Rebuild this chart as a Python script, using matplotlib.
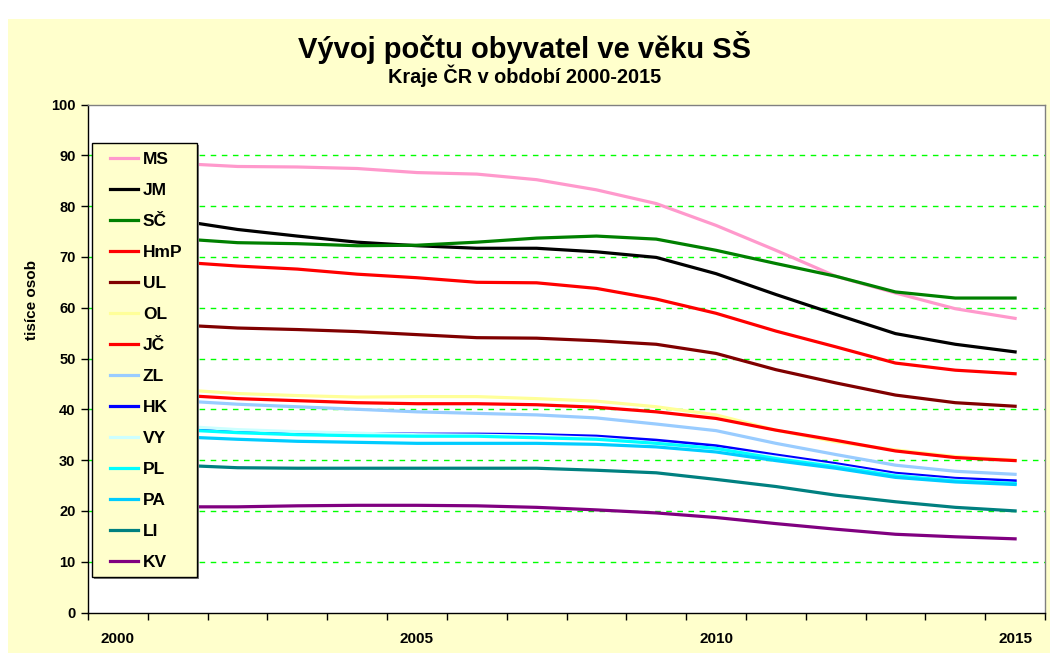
import matplotlib
matplotlib.use("Agg")
import matplotlib.pyplot as plt
from matplotlib.patches import Rectangle
import numpy as np

plt.rcParams['font.family'] = ['Liberation Sans', 'DejaVu Sans']

W, H = 1050, 653

years = list(range(2000, 2016))
year_labels = ['2000', '2005', '2010', '2015']

series_names = ['MS', 'JM', 'SČ', 'HmP', 'UL', 'OL', 'JČ', 'ZL', 'HK', 'VY', 'PL', 'PA', 'LI', 'KV']
series_colors = ['#FF99CC', '#000000', '#008000', '#FF0000', '#800000', '#FFFF99', '#FF0000',
                 '#99CCFF', '#0000FF', '#CCFFFF', '#00FFFF', '#00CCFF', '#008080', '#800080']

MS  = [88.8, 88.4, 87.8, 87.7, 87.4, 86.6, 86.3, 85.2, 83.2, 80.5, 76.2, 71.3, 66.2, 62.9, 59.8, 57.9]
JM  = [78.3, 77.2, 75.4, 74.1, 72.9, 72.2, 71.7, 71.7, 71.0, 69.9, 66.7, 62.6, 58.7, 54.9, 52.8, 51.3]
SC  = [74.0, 73.6, 72.8, 72.6, 72.2, 72.3, 72.9, 73.7, 74.1, 73.5, 71.3, 68.7, 66.2, 63.1, 61.9, 61.9]
HmP = [69.5, 69.0, 68.2, 67.6, 66.6, 65.9, 65.0, 64.9, 63.8, 61.7, 58.9, 55.4, 52.3, 49.1, 47.7, 47.0]
UL  = [57.0, 56.6, 56.0, 55.7, 55.3, 54.7, 54.1, 54.0, 53.5, 52.8, 51.0, 47.8, 45.2, 42.8, 41.3, 40.6]
OL  = [44.3, 43.9, 43.1, 42.7, 42.4, 42.5, 42.5, 42.1, 41.6, 40.5, 38.9, 35.9, 33.6, 32.0, 30.7, 30.0]
JC  = [43.0, 42.8, 42.1, 41.7, 41.3, 41.1, 41.1, 40.9, 40.4, 39.5, 38.2, 35.9, 33.9, 31.8, 30.5, 29.9]
ZL  = [42.0, 41.7, 41.0, 40.5, 40.0, 39.5, 39.2, 38.9, 38.3, 37.1, 35.8, 33.3, 31.1, 29.0, 27.8, 27.2]
HK  = [36.8, 36.4, 35.7, 35.4, 35.2, 35.1, 35.1, 35.0, 34.7, 33.9, 32.8, 31.0, 29.3, 27.4, 26.4, 25.9]
VY  = [37.2, 36.7, 36.0, 35.6, 35.3, 35.0, 34.9, 34.7, 34.3, 33.4, 32.3, 30.6, 28.9, 27.0, 26.0, 25.4]
PL  = [36.3, 36.0, 35.4, 35.0, 34.8, 34.7, 34.7, 34.4, 34.1, 33.3, 32.3, 30.3, 28.7, 26.9, 25.9, 25.4]
PA  = [34.9, 34.6, 34.1, 33.7, 33.5, 33.3, 33.3, 33.3, 33.1, 32.6, 31.6, 29.9, 28.4, 26.6, 25.7, 25.2]
LI  = [29.2, 29.0, 28.5, 28.4, 28.4, 28.4, 28.4, 28.4, 28.0, 27.5, 26.2, 24.8, 23.1, 21.8, 20.7, 20.0]
KV  = [20.8, 20.8, 20.8, 21.0, 21.1, 21.1, 21.0, 20.7, 20.2, 19.6, 18.7, 17.5, 16.4, 15.4, 14.9, 14.5]

series_values = [MS, JM, SC, HmP, UL, OL, JC, ZL, HK, VY, PL, PA, LI, KV]

title = 'Vývoj počtu obyvatel ve věku SŠ'
subtitle = 'Kraje ČR v období 2000-2015'
ylabel = 'tisíce osob'


def fx(px):
    return px / W


def fy(py):
    return 1 - py / H


fig = plt.figure(figsize=(W / 100, H / 100), dpi=100)
fig.patch.set_facecolor('white')
fig.patches.append(Rectangle((fx(8), 0), 1 - fx(8), fy(19), transform=fig.transFigure,
                             facecolor='#FFFFCC', edgecolor='none', zorder=-5))

ax = fig.add_axes([fx(88), fy(612.5), fx(1045) - fx(88), (612.5 - 104.5) / H])
ax.set_facecolor('white')
ax.set_zorder(1)

x = np.arange(len(years))
lines = []
for name, vals, col in zip(series_names, series_values, series_colors):
    ln, = ax.plot(x, vals, color=col, lw=2.3, label=name, solid_joinstyle='round')
    lines.append(ln)

ax.set_xlim(-0.5, len(years) - 0.5)
ax.set_ylim(0, 100)
ax.set_yticks(np.arange(0, 101, 10))
ax.set_yticklabels([str(v) for v in range(0, 101, 10)], fontweight='bold', fontsize=10.5)
ax.set_xticks(np.arange(-0.5, len(years), 1))
ax.set_xticklabels([])
lab_pos = [years.index(int(s)) for s in year_labels]
ax.set_xticks(lab_pos, minor=True)
ax.set_xticklabels(year_labels, minor=True, fontweight='bold', fontsize=11)
ax.tick_params(axis='x', which='minor', length=0, pad=14)
ax.tick_params(axis='x', which='major', length=5, width=1, direction='out')
ax.tick_params(axis='y', length=5, width=1, direction='out', pad=4)

for yv in range(10, 100, 10):
    ax.axhline(yv, color='#00FF00', lw=1, ls=(0, (4, 4)), zorder=0.5)

for s in ['left', 'bottom']:
    ax.spines[s].set_color('black')
    ax.spines[s].set_linewidth(1)
for s in ['top', 'right']:
    ax.spines[s].set_color('#808080')
    ax.spines[s].set_linewidth(1)

# legend frame
lx0, lx1, ly0, ly1 = 92, 197, 142.5, 577
fig.patches.append(Rectangle((fx(lx0 + 2), fy(ly1 + 2)), fx(lx1) - fx(lx0), fy(ly0) - fy(ly1),
                             transform=fig.transFigure, facecolor='#808080', edgecolor='none', zorder=3))
fig.patches.append(Rectangle((fx(lx0), fy(ly1)), fx(lx1) - fx(lx0), fy(ly0) - fy(ly1),
                             transform=fig.transFigure, facecolor='#FFFFCC', edgecolor='black',
                             lw=1, zorder=3.1))

leg = ax.legend(handles=lines, loc='center left', bbox_to_anchor=(fx(110), fy(361)),
                bbox_transform=fig.transFigure, frameon=False, borderpad=0, borderaxespad=0,
                handlelength=1.6, handletextpad=0.3, labelspacing=0.91,
                prop={'weight': 'bold', 'size': 12.5})
ax.get_legend().remove()
leg.set_zorder(5)
fig.add_artist(leg)

fig.text(0.5, fy(47), title, ha='center', va='center', fontsize=21, fontweight='bold')
fig.text(0.5, fy(76), subtitle, ha='center', va='center', fontsize=14.3, fontweight='bold')
fig.text(fx(32), fy(300), ylabel, ha='center', va='center', rotation=90, fontsize=11, fontweight='bold')

fig.savefig('out.png', dpi=100, facecolor=fig.get_facecolor())
